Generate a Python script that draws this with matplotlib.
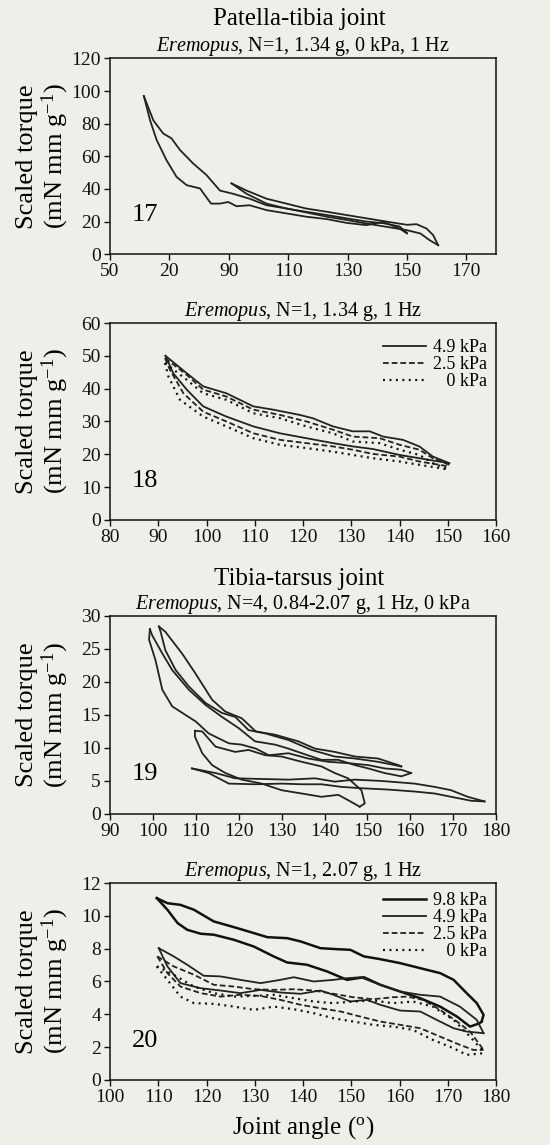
import matplotlib
matplotlib.use("Agg")
import matplotlib.pyplot as plt

plt.rcParams['font.family'] = ['Liberation Serif', 'DejaVu Serif']
plt.rcParams['mathtext.fontset'] = 'custom'
plt.rcParams['mathtext.rm'] = 'Liberation Serif'
plt.rcParams['mathtext.it'] = 'Liberation Serif:italic'

BG = '#efefea'
LC = '#222222'

# ---------------- Panel 17 data ----------------
p17_a_xu = [61.4, 64.6, 67.9, 70.7, 73.5, 78, 82.5, 87, 91.5, 97, 102.7, 109.4, 116, 123, 129.6, 136.3, 142, 147.5, 150]
p17_a_yu = [96.9, 82, 74, 71, 64, 55.6, 48.5, 39, 37, 34, 30, 28, 26, 24, 22, 20, 19, 17, 13]
p17_a_xl = [61.4, 63.5, 65.7, 69, 72.4, 75.8, 80.3, 84, 87, 89.8, 92.6, 97, 102.7, 109.4, 116, 123, 129.6, 136.3, 142, 147.5, 150]
p17_a_yl = [96.9, 82, 70, 57.7, 47.4, 42.3, 40.3, 31, 31, 32, 29.4, 30, 27, 25, 23, 21.5, 19.2, 17.8, 19.8, 15.7, 12.7]
p17_b_xu = [90.9, 96, 102.7, 109.4, 116, 123, 129.6, 136.3, 143, 150, 153.2, 156.6, 158.8, 160.5]
p17_b_yu = [43.4, 39, 34, 31, 28, 26, 24, 22, 20, 18, 18.4, 15.7, 11.7, 5.5]
p17_b_xl = [90.9, 96, 102.7, 109.4, 116, 123, 129.6, 136.3, 143, 150, 154.5, 157.6, 160.5]
p17_b_yl = [43.4, 37, 31, 28, 25.6, 23, 21, 18.8, 16.8, 14.7, 12.7, 8.6, 5.5]
p17_xticks = [50, 70, 90, 110, 130, 150, 170]
p17_xticklabels = ['50', '20', '90', '110', '130', '150', '170']
p17_yticks = [0, 20, 40, 60, 80, 100, 120]

# ---------------- Panel 18 data ----------------
p18_labels = ['4.9 kPa', '2.5 kPa', '   0 kPa']
p18_49_xu = [91.5, 95.9, 99.3, 104.1, 109.7, 113.8, 119.3, 122, 126.2, 130.3, 133.8, 136.6, 140.7, 144.1, 146.9, 150.3]
p18_49_yu = [50.0, 44.7, 40.7, 38.6, 34.6, 33.6, 32, 31, 28.5, 27, 27, 25.4, 24.4, 22.4, 19.3, 17.3]
p18_49_xl = [91.5, 93.1, 95.9, 99.3, 104.1, 109.7, 115.2, 120.7, 126.2, 130.3, 134.5, 140, 144.1, 150.3]
p18_49_yl = [50.0, 44.7, 39.7, 34.6, 31.5, 28.5, 26.4, 24.9, 23.4, 22.4, 21.6, 19.8, 18.8, 17.3]
p18_25_xu = [91.4, 95.9, 99.3, 104.1, 109.7, 115.2, 120.7, 126.2, 130.3, 135.9, 140, 144.1, 146.9, 150.3]
p18_25_yu = [49.3, 44.2, 39.7, 37.6, 33.6, 32, 30, 27.5, 25.4, 24.9, 22.9, 21.4, 18.8, 16.8]
p18_25_xl = [91.4, 92.4, 95.2, 99.3, 104.1, 109.7, 115.2, 120.7, 126.2, 130.3, 134.5, 140, 144.1, 150.3]
p18_25_yl = [49.3, 45.8, 38.6, 33, 30, 26.4, 24.4, 23.4, 22.4, 21.4, 20.1, 19.3, 17.8, 16.3]
p18_0_xu = [91.4, 95.9, 99.3, 104.1, 109.7, 115.2, 120.7, 126.2, 130.3, 135.9, 140, 144.1, 146.9, 150.3]
p18_0_yu = [47.8, 42.7, 38.6, 36.6, 32.5, 31, 28.5, 26.4, 23.9, 23.4, 21.4, 19.8, 17.3, 15.3]
p18_0_xl = [91.4, 92.1, 94.5, 99.3, 104.1, 109.7, 115.2, 120.7, 126.2, 130.3, 134.5, 140, 144.1, 150.3]
p18_0_yl = [47.8, 43.7, 36.6, 31.5, 28.5, 24.9, 22.9, 21.9, 20.8, 19.8, 18.8, 17.8, 16.8, 15.3]
p18_xticks = [80, 90, 100, 110, 120, 130, 140, 150, 160]
p18_yticks = [0, 10, 20, 30, 40, 50, 60]

# ---------------- Panel 19 data ----------------
p19_1_xu = [99.3, 99.8, 102.2, 104.5, 108.4, 112.3, 116.1, 120, 123.8, 128.5, 131.6, 134.7, 139.3, 143.2, 147.1, 150.2, 154, 157.9, 160.2]
p19_1_yu = [28.0, 27.1, 24.3, 21.8, 18.8, 16.5, 14.7, 13, 11, 10.5, 9.9, 9.2, 8.2, 8.2, 7.4, 6.9, 6.2, 5.7, 6.2]
p19_1_xl = [99.3, 99.1, 100.6, 102.2, 104.5, 107.6, 110, 113, 117.7, 120.7, 124, 127, 131.6, 136.2, 140.9, 145.5, 150.2, 154, 157.9, 160.2]
p19_1_yl = [28.0, 26.4, 23.3, 18.8, 16.3, 15, 14, 12.2, 10.7, 10.5, 9.9, 8.9, 9.2, 8.4, 7.9, 7.7, 7.4, 6.9, 6.7, 6.2]
p19_2_xu = [101.4, 102.9, 106.8, 109.9, 113.8, 116.9, 120.7, 124, 128.5, 133.9, 137.8, 142.4, 147.1, 152.5, 157.2, 157.9]
p19_2_yu = [28.4, 27.6, 24.3, 21.3, 17.3, 15.5, 14.5, 12.5, 12, 11, 9.9, 9.4, 8.7, 8.4, 7.4, 7.2]
p19_2_xl = [101.4, 101.8, 102.9, 105.3, 108.4, 112.3, 116.1, 119.2, 122.3, 126.2, 131.6, 137, 142.4, 147.1, 152.5, 157.9]
p19_2_yl = [28.4, 27.6, 24.8, 21.8, 19.3, 16.8, 15.3, 14.7, 12.7, 12.2, 11.2, 9.7, 8.7, 8.4, 7.9, 7.2]
p19_3_xu = [109.8, 111.5, 114.6, 119.2, 122.3, 126.2, 130, 134.7, 139.3, 142.4, 145.5, 148.6, 149.4, 148.2]
p19_3_yu = [12.6, 12.5, 10.2, 9.4, 9.7, 8.9, 8.7, 7.9, 7.2, 6.2, 5.4, 3.6, 1.6, 1.1]
p19_3_xl = [109.8, 109.8, 111.5, 113.8, 116.9, 120.7, 125.4, 130, 134.7, 139.3, 143.2, 145.5, 148.2]
p19_3_yl = [12.6, 11.7, 9.2, 7.4, 6.2, 5.2, 4.6, 3.6, 3.1, 2.6, 2.9, 2.1, 1.1]
p19_4_xu = [109.1, 114.6, 119.2, 125.4, 131.6, 137.8, 142.4, 147.1, 153.3, 161, 165.7, 169.5, 173.4, 177.3]
p19_4_yu = [6.9, 6.2, 5.4, 5.3, 5.2, 5.4, 4.9, 5.2, 5, 4.6, 4.1, 3.6, 2.6, 1.9]
p19_4_xl = [109.1, 113, 117.7, 123.8, 130, 134.7, 139.3, 144, 148.6, 154.8, 161, 165.7, 170.3, 174.2, 177.3]
p19_4_yl = [6.9, 6.2, 4.6, 4.5, 4.6, 4.5, 4.5, 4.1, 3.9, 3.7, 3.4, 3.1, 2.5, 2.0, 1.9]
p19_xticks = [90, 100, 110, 120, 130, 140, 150, 160, 170, 180]
p19_yticks = [0, 5, 10, 15, 20, 25, 30]

# ---------------- Panel 20 data ----------------
p20_labels = ['9.8 kPa', '4.9 kPa', '2.5 kPa', '   0 kPa']
p20_98_xu = [109.7, 111.9, 114.6, 117.4, 121.5, 125.7, 129.8, 132.6, 136.7, 139.5, 143.6, 147, 149.8, 152.6, 156, 160.1, 164.3, 168.4, 171.2, 173.9, 176, 177.4, 177]
p20_98_yu = [11.08, 10.77, 10.67, 10.37, 9.66, 9.31, 8.95, 8.7, 8.64, 8.44, 8.03, 7.97, 7.93, 7.53, 7.36, 7.12, 6.81, 6.51, 6.1, 5.29, 4.68, 3.97, 3.56]
p20_98_xl = [109.7, 111.9, 114, 116, 118.8, 121.5, 125.7, 129.8, 133.9, 136.7, 140.8, 145, 149.1, 152.6, 156, 160.1, 164.3, 168.4, 171.9, 174.6, 176.6, 177]
p20_98_yl = [11.08, 10.37, 9.56, 9.15, 8.91, 8.85, 8.54, 8.13, 7.53, 7.16, 7.02, 6.61, 6.1, 6.26, 5.8, 5.39, 4.98, 4.47, 3.86, 3.25, 3.46, 3.56]
p20_49_xu = [110.1, 113.2, 116, 119.4, 122.9, 127, 131.2, 135.3, 138.1, 142.2, 146.3, 149.1, 151.9, 156, 160.1, 164.3, 168.4, 172.5, 176, 177.4]
p20_49_yu = [8.03, 7.53, 7.02, 6.35, 6.31, 6.1, 5.9, 6.1, 6.26, 6.0, 6.1, 6.2, 6.26, 5.8, 5.39, 5.19, 5.08, 4.47, 3.66, 2.85]
p20_49_xl = [110.1, 111.9, 114.6, 118.8, 122.9, 127, 131.2, 135.3, 139.5, 143.6, 146.3, 149.8, 153.2, 156, 160.1, 164.3, 167.7, 171.2, 173.9, 177.4]
p20_49_yl = [8.03, 6.92, 5.9, 5.59, 5.45, 5.29, 5.49, 5.33, 5.25, 5.45, 5.19, 4.78, 4.88, 4.58, 4.23, 4.17, 3.66, 3.15, 2.95, 2.85]
p20_25_xu = [109.8, 113.2, 117.4, 121.5, 125.7, 129.8, 133.9, 138.1, 142.2, 146.3, 150.4, 154.5, 158.6, 161.5, 164.9, 168.4, 171.9, 174.6, 177.4]
p20_25_yu = [7.53, 6.92, 6.41, 5.8, 5.69, 5.53, 5.49, 5.53, 5.45, 5.25, 5.04, 4.92, 5.04, 5.08, 4.88, 4.27, 3.56, 2.95, 1.83]
p20_25_xl = [109.8, 111.9, 114.6, 118.8, 122.9, 127, 131.2, 135.3, 139.5, 143.6, 147.8, 151.9, 156, 160.1, 164.3, 168.4, 172.5, 175.3, 177.4]
p20_25_yl = [7.53, 6.51, 5.69, 5.29, 5.08, 5.19, 5.12, 4.88, 4.58, 4.37, 4.17, 3.86, 3.56, 3.36, 3.15, 2.64, 2.14, 1.83, 1.83]
p20_0_xu = [109.7, 113.2, 117.4, 121.5, 125.7, 129.8, 133.9, 138.1, 142.2, 146.3, 150.4, 154.5, 158.6, 162.8, 166.9, 171.2, 174.6, 177.4]
p20_0_yu = [6.92, 6.41, 5.69, 5.29, 5.08, 5.12, 5.19, 4.98, 4.78, 4.68, 4.78, 4.84, 4.68, 4.78, 4.47, 3.66, 2.64, 1.73]
p20_0_xl = [109.7, 111.9, 114.6, 117.4, 121.5, 125.7, 129.8, 133.9, 138.1, 142.2, 146.3, 150.4, 154.5, 158.6, 162.8, 166.9, 171.2, 173.9, 177.4]
p20_0_yl = [6.92, 6.1, 5.08, 4.68, 4.64, 4.47, 4.27, 4.47, 4.31, 4.07, 3.76, 3.56, 3.36, 3.25, 3.05, 2.44, 1.93, 1.53, 1.63]
p20_xticks = [100, 110, 120, 130, 140, 150, 160, 170, 180]
p20_yticks = [0, 2, 4, 6, 8, 10, 12]

YLABEL = 'Scaled torque\n(mN mm g$^{-1}$)'
SOLID = '-'
DASH = (0, (3.2, 1.6))
DOT = (0, (0.9, 2.0))

fig = plt.figure(figsize=(5.5, 11.45), dpi=100)
fig.patch.set_facecolor(BG)

L, W = 0.2, 0.702
ax17 = fig.add_axes([L, 0.778, W, 0.171])
ax18 = fig.add_axes([L, 0.5459, W, 0.172])
ax19 = fig.add_axes([L, 0.2891, W, 0.173])
ax20 = fig.add_axes([L, 0.0568, W, 0.172])


def style(ax, xlim, ylim, xticks, yticks, num, xticklabels=None):
    ax.set_facecolor(BG)
    ax.set_xlim(*xlim)
    ax.set_ylim(*ylim)
    ax.set_xticks(xticks)
    if xticklabels is not None:
        ax.set_xticklabels(xticklabels)
    ax.set_yticks(yticks)
    ax.tick_params(direction='out', length=4.5, width=1.0, labelsize=14,
                   pad=2, colors='#111111')
    for s in ax.spines.values():
        s.set_linewidth(1.1)
        s.set_color('#111111')
    ax.set_ylabel(YLABEL, fontsize=19, linespacing=1.05)
    ax.yaxis.set_label_coords(-0.102, 0.5)
    ax.text(0.057, 0.2, num, transform=ax.transAxes, fontsize=19, va='center')


def loop(ax, xu, yu, xl, yl, label=None, **kw):
    ln, = ax.plot(xu, yu, label=label, **kw)
    ax.plot(xl, yl, **kw)
    return ln


kw = dict(color=LC, lw=1.3)
kwd = dict(color='#111111', lw=1.6)

# Panel 17
loop(ax17, p17_a_xu, p17_a_yu, p17_a_xl, p17_a_yl, **kw)
loop(ax17, p17_b_xu, p17_b_yu, p17_b_xl, p17_b_yl, **kw)
style(ax17, (50, 180), (0, 120), p17_xticks, p17_yticks, '17', p17_xticklabels)
ax17.set_title(r'$\mathit{Eremopus}$, N=1, 1.34 g, 0 kPa, 1 Hz', fontsize=14.5, pad=4)
ax17.text(0.49, 1.145, 'Patella-tibia joint', transform=ax17.transAxes,
          ha='center', va='bottom', fontsize=18)

# Panel 18
h1 = loop(ax18, p18_49_xu, p18_49_yu, p18_49_xl, p18_49_yl, label=p18_labels[0], ls=SOLID, **kw)
h2 = loop(ax18, p18_25_xu, p18_25_yu, p18_25_xl, p18_25_yl, label=p18_labels[1], ls=DASH, **kw)
h3 = loop(ax18, p18_0_xu, p18_0_yu, p18_0_xl, p18_0_yl, label=p18_labels[2], ls=DOT, **kwd)
style(ax18, (80, 160), (0, 60), p18_xticks, p18_yticks, '18')
ax18.set_title(r'$\mathit{Eremopus}$, N=1, 1.34 g, 1 Hz', fontsize=14.5, pad=4)
ax18.legend(handles=[h1, h2, h3], loc='upper right', frameon=False, fontsize=13,
            handlelength=2.4, handletextpad=0.4, labelspacing=0.0,
            borderaxespad=0.2, borderpad=0.3, bbox_to_anchor=(1.0, 0.965))

# Panel 19
loop(ax19, p19_1_xu, p19_1_yu, p19_1_xl, p19_1_yl, **kw)
loop(ax19, p19_2_xu, p19_2_yu, p19_2_xl, p19_2_yl, **kw)
loop(ax19, p19_3_xu, p19_3_yu, p19_3_xl, p19_3_yl, **kw)
loop(ax19, p19_4_xu, p19_4_yu, p19_4_xl, p19_4_yl, **kw)
style(ax19, (90, 180), (0, 30), p19_xticks, p19_yticks, '19')
ax19.set_title(r'$\mathit{Eremopus}$, N=4, 0.84-2.07 g, 1 Hz, 0 kPa', fontsize=14.5, pad=4)
ax19.text(0.49, 1.13, 'Tibia-tarsus joint', transform=ax19.transAxes,
          ha='center', va='bottom', fontsize=18)

# Panel 20
g1 = loop(ax20, p20_98_xu, p20_98_yu, p20_98_xl, p20_98_yl, label=p20_labels[0], ls=SOLID, color='#111111', lw=1.8)
g2 = loop(ax20, p20_49_xu, p20_49_yu, p20_49_xl, p20_49_yl, label=p20_labels[1], ls=SOLID, **kw)
g3 = loop(ax20, p20_25_xu, p20_25_yu, p20_25_xl, p20_25_yl, label=p20_labels[2], ls=DASH, **kw)
g4 = loop(ax20, p20_0_xu, p20_0_yu, p20_0_xl, p20_0_yl, label=p20_labels[3], ls=DOT, **kwd)
style(ax20, (100, 180), (0, 12), p20_xticks, p20_yticks, '20')
ax20.set_title(r'$\mathit{Eremopus}$, N=1, 2.07 g, 1 Hz', fontsize=14.5, pad=4)
ax20.legend(handles=[g1, g2, g3, g4], loc='upper right', frameon=False, fontsize=13,
            handlelength=2.4, handletextpad=0.4, labelspacing=0.0,
            borderaxespad=0.2, borderpad=0.3)
ax20.set_xlabel(r'Joint angle ($^{\mathrm{o}}$)', fontsize=18, labelpad=6)

fig.savefig('out.png', dpi=100, facecolor=BG)
